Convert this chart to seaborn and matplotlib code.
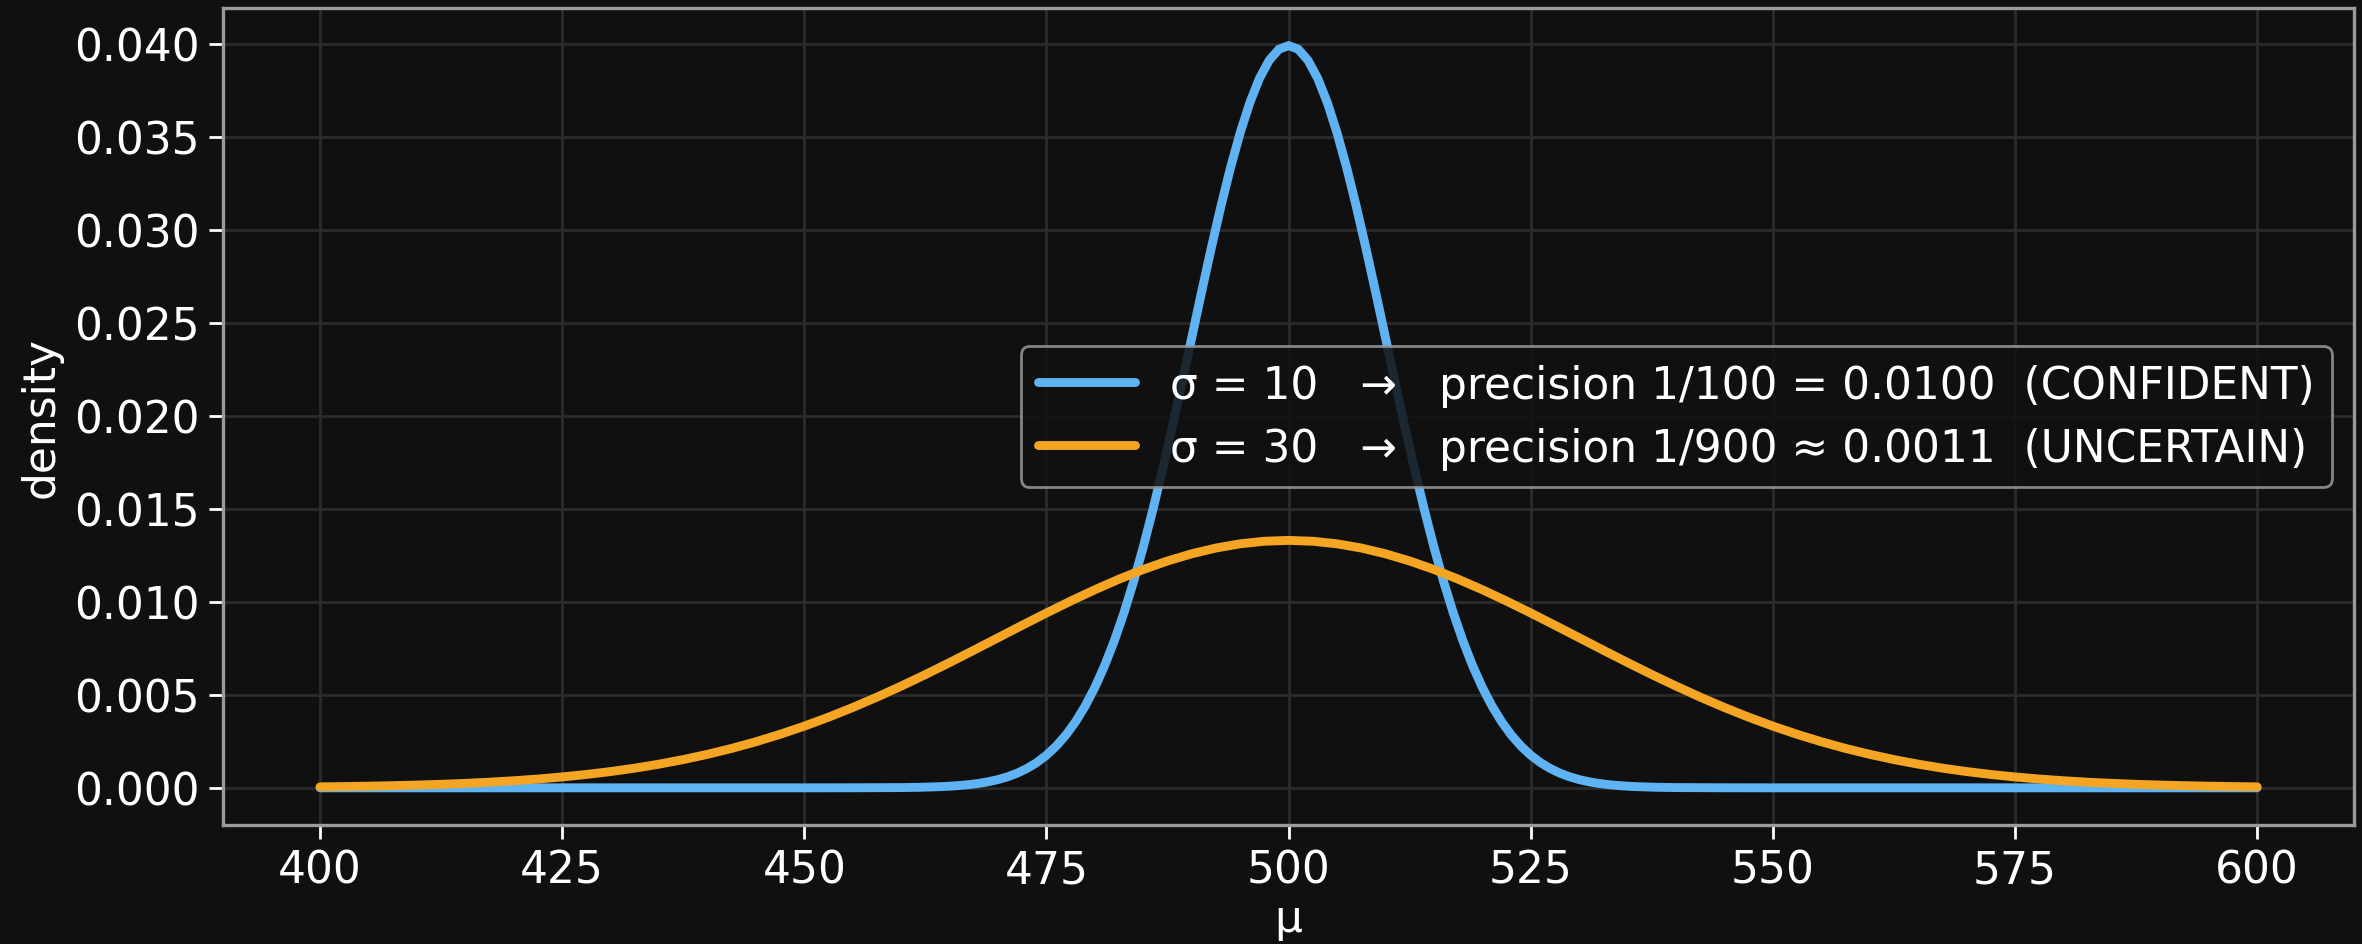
import numpy as np
import matplotlib
matplotlib.use("Agg")
import matplotlib.pyplot as plt
import pandas as pd
import seaborn as sns

# values (density of mu for two sigmas, centred on 500)
offsets_narrow = [0, 1, 2, 3, 4, 5, 6, 7, 8, 9, 10, 11, 12, 13, 14, 15, 16, 17,
                  18, 19, 20, 21, 22, 23, 24, 25, 26, 27, 28, 29, 30, 31, 32, 33,
                  34, 35, 36, 38, 40, 45, 50, 60, 70, 80, 90, 100]
density_narrow = [0.039894, 0.039695, 0.039104, 0.038139, 0.036827, 0.035207,
                  0.033322, 0.031225, 0.028969, 0.026609, 0.024197, 0.021785,
                  0.019419, 0.017137, 0.014973, 0.012952, 0.011092, 0.009405,
                  0.007895, 0.006562, 0.005399, 0.004398, 0.003547, 0.002833,
                  0.002239, 0.001753, 0.001358, 0.001042, 0.000792, 0.000595,
                  0.000443, 0.000327, 0.000238, 0.000172, 0.000123, 0.000087,
                  0.000061, 0.000029, 0.000013, 0.000002, 0.0, 0.0, 0.0, 0.0,
                  0.0, 0.0]
offsets_wide = [0, 2.5, 5, 7.5, 10, 12.5, 15, 17.5, 20, 22.5, 25, 27.5, 30, 32.5,
                35, 37.5, 40, 42.5, 45, 47.5, 50, 52.5, 55, 57.5, 60, 62.5, 65,
                67.5, 70, 72.5, 75, 77.5, 80, 82.5, 85, 87.5, 90, 92.5, 95, 97.5,
                100]
density_wide = [0.013298, 0.013252, 0.013115, 0.012889, 0.012579, 0.012192,
                0.011735, 0.011217, 0.010648, 0.010038, 0.009397, 0.008736,
                0.008066, 0.007395, 0.006733, 0.006088, 0.005467, 0.004875,
                0.004317, 0.003797, 0.003316, 0.002876, 0.002477, 0.002118,
                0.001800, 0.001518, 0.001272, 0.001058, 0.000874, 0.000717,
                0.000584, 0.000473, 0.000380, 0.000303, 0.000240, 0.000189,
                0.000148, 0.000115, 0.000088, 0.000068, 0.000051]
center = 500
xticks = [400, 425, 450, 475, 500, 525, 550, 575, 600]

labels = ["σ = 10   →   precision 1/100 = 0.0100  (CONFIDENT)",
          "σ = 30   →   precision 1/900 ≈ 0.0011  (UNCERTAIN)"]
colors = ["#5fb3f2", "#f5a524"]


def mirror(offsets, dens):
    # both curves are symmetric around the centre
    x = [center - o for o in offsets[::-1]] + [center + o for o in offsets[1:]]
    y = list(dens[::-1]) + list(dens[1:])
    return x, y


bg = "#101010"
sns.set_theme(style="dark")
plt.rcParams.update({
    "figure.facecolor": bg,
    "axes.facecolor": bg,
    "axes.edgecolor": "#9a9a9a",
    "axes.labelcolor": "white",
    "xtick.color": "white",
    "ytick.color": "white",
    "text.color": "white",
    "grid.color": "#2b2b2b",
    "axes.grid": True,
    "xtick.bottom": True,
    "ytick.left": True,
})
plt.rcParams["font.family"] = ["DejaVu Sans"]

fig, ax = plt.subplots(figsize=(11.81, 4.725), dpi=200)

for (offs, dens), lab, col in zip([(offsets_narrow, density_narrow),
                                   (offsets_wide, density_wide)], labels, colors):
    x, y = mirror(offs, dens)
    df = pd.DataFrame({"mu": x, "density": y})
    sns.lineplot(data=df, x="mu", y="density", ax=ax, color=col,
                 linewidth=3.2, label=lab)

ax.set_xticks(xticks)
ax.tick_params(labelsize=15.8, length=5, width=1)
ax.set_xlabel("μ", fontsize=15.8, labelpad=2)
ax.set_ylabel("density", fontsize=15.8)
for s in ax.spines.values():
    s.set_linewidth(1.2)
    s.set_color("#9a9a9a")

leg = ax.legend(loc="center right", fontsize=15.8, facecolor=bg,
                edgecolor="#9a9a9a", framealpha=0.85, handlelength=2.2,
                labelspacing=0.45)
for t in leg.get_texts():
    t.set_color("white")

fig.subplots_adjust(left=0.0945, right=0.9966, top=0.990, bottom=0.126)
fig.savefig("out.png", dpi=200, facecolor=bg)
